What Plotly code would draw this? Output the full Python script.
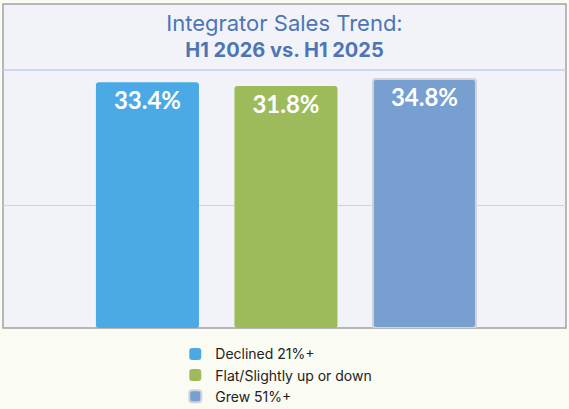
import plotly.graph_objs as go

categories = ["Declined 21%+", "Flat/Slightly up or down", "Grew 51%+"]
values = [33.4, 31.8, 34.8]
colors = ["#4baae6", "#9dbb5b", "#779fd0"]

# axis is cropped in the original, bars start from the bottom of the range
Y_LOW = -71.9
Y_HIGH = 38.7
GRID_AT = -19.2

fig = go.Figure()
for i in range(len(categories)):
    fig.add_trace(go.Bar(
        x=[i],
        y=[values[i] - Y_LOW],
        base=Y_LOW,
        name=categories[i],
        width=0.744,
        marker=dict(color=colors[i],
                    line=dict(color="#d2d3da" if i == 2 else colors[i], width=2 if i == 2 else 0)),
        text=[f"{values[i]:.1f}%"],
        textposition="inside",
        insidetextanchor="end",
        textfont=dict(family="Lato", size=24, color="white", weight="bold"),
        hovertemplate="%{text}<extra></extra>",
    ))

fig.update_layout(
    width=569, height=409,
    margin=dict(l=3, r=3, t=70, b=81, autoexpand=False),
    barmode="overlay",
    barcornerradius=3,
    paper_bgcolor="#fafbf2",
    plot_bgcolor="#f2f3f9",
    title=dict(
        text="<span style='font-size:22px'>Integrator Sales Trend:</span><br><b>H1 2026 vs. H1 2025</b>",
        x=0.5, xanchor="center", y=0.925, yanchor="top",
        font=dict(family="Inter", size=20, color="#4d75b5"),
    ),
    xaxis=dict(range=[-1.043, 3.022], showticklabels=False, showgrid=False,
               zeroline=False, fixedrange=True),
    yaxis=dict(range=[Y_LOW, Y_HIGH], tickvals=[GRID_AT], showticklabels=False,
               showgrid=True, gridcolor="#c9d5ea", gridwidth=1, zeroline=False),
    legend=dict(
        orientation="v", x=0.306, xanchor="left", y=-0.04, yanchor="top",
        font=dict(family="Inter", size=14, color="#222222"),
        bgcolor="rgba(0,0,0,0)", tracegroupgap=0,
    ),
    showlegend=True,
    shapes=[
        # panel behind title and plot
        dict(type="rect", xref="paper", yref="paper", x0=0, x1=1, y0=0, y1=1.256,
             fillcolor="#f2f3f9", line=dict(color="#a3a3a3", width=1.5), layer="below"),
        # rule under the title
        dict(type="line", xref="paper", yref="paper", x0=0, x1=1, y0=1, y1=1,
             line=dict(color="#c2d0e6", width=1.5)),
    ],
)

# page has a default body margin that would push the fixed-size figure off the window
fig.write_html("out.html", config={"displayModeBar": False},
               post_script="document.body.style.margin='0';")
